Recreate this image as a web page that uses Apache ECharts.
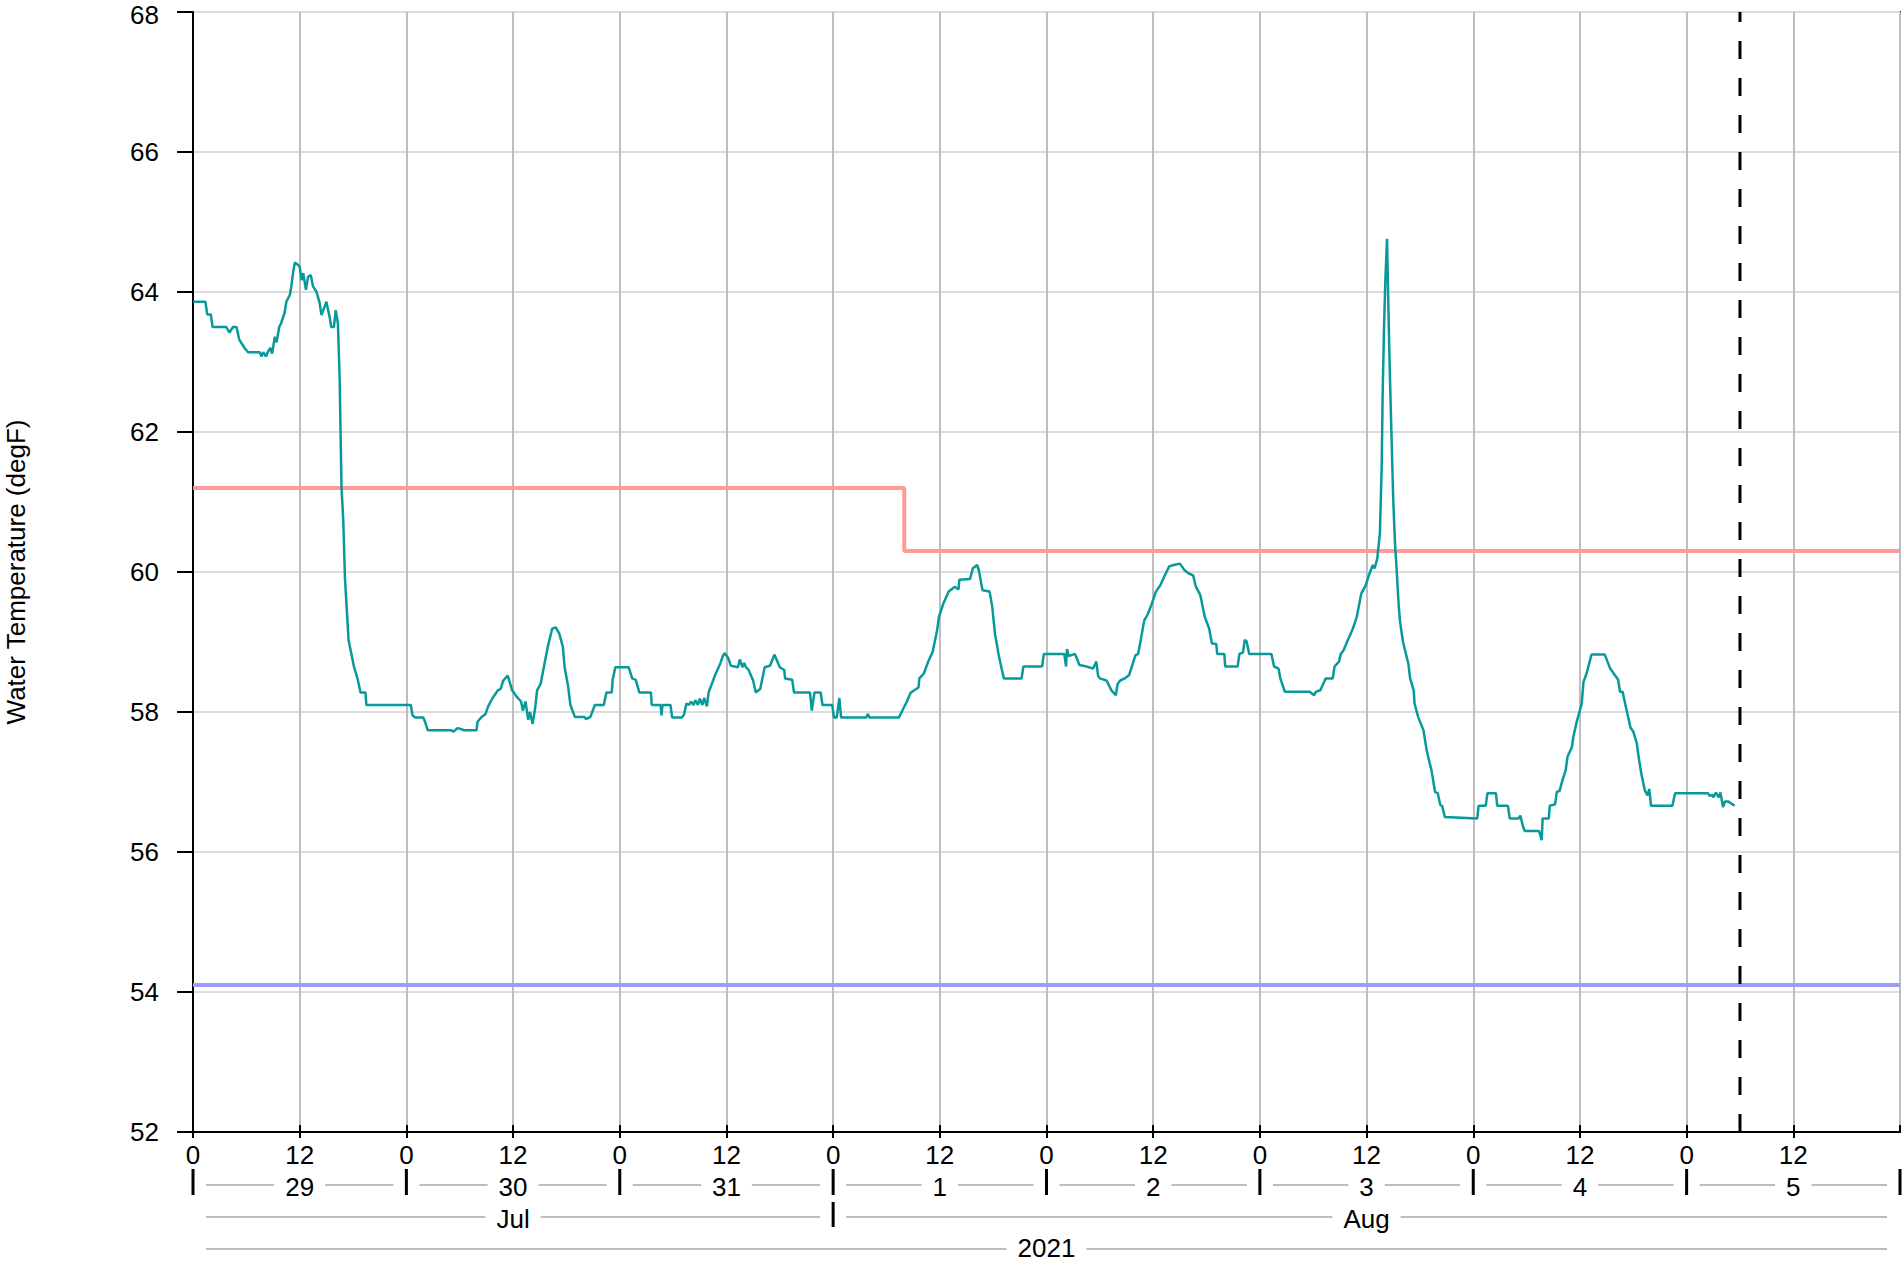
<!DOCTYPE html>
<html>
<head>
<meta charset="utf-8">
<script src="https://cdn.jsdelivr.net/npm/echarts@6/dist/echarts.min.js"></script>
<style>
html,body{margin:0;padding:0;background:#fff;}
#chart{width:1903px;height:1263px;}
</style>
</head>
<body>
<div id="chart"></div>
<script>
// ---- data (x = hours since 2021-07-29 00:00) ----
const tempHours = [
0.0,1.4,1.6,2.0,2.2,3.75,4.1,4.5,4.9,5.2,5.8,6.2,7.5,7.7,7.9,8.2,8.4,8.7,8.9,9.2,9.4,9.7,9.9,10.3,10.5,10.9,11.06,11.25,11.45,11.8,
12.0,12.2,12.4,12.7,12.95,13.25,13.5,13.9,14.25,14.45,14.8,15.0,15.4,15.55,15.85,16.05,16.3,16.5,16.7,16.9,17.1,17.5,18.1,18.5,18.85,19.4,19.5,24.5,
24.7,25.0,25.9,26.1,26.4,29.0,29.3,29.8,30.5,31.9,32.0,32.4,32.9,33.2,33.7,34.3,34.6,34.9,35.4,35.9,36.4,36.9,37.1,37.4,37.7,37.9,38.2,38.5,38.7,39.1,39.4,39.9,
40.4,40.8,41.2,41.6,41.8,42.2,42.45,42.95,44.0,44.2,44.7,45.2,46.2,46.5,47.1,47.2,47.5,49.0,49.4,49.8,50.2,51.5,51.6,52.6,52.7,52.8,53.7,53.9,55.0,55.25,
55.5,55.8,56.0,56.3,56.5,56.8,57.0,57.3,57.5,57.8,58.0,58.5,58.7,59.3,59.6,59.8,60.2,60.5,61.3,61.5,61.8,62.0,62.2,62.5,63.0,63.3,63.8,64.3,64.9,65.4,
66.0,66.5,66.6,67.4,67.6,69.4,69.6,69.9,70.6,70.8,71.9,72.1,72.4,72.7,72.9,75.7,75.9,76.1,79.4,79.9,80.3,80.7,81.0,81.6,81.7,82.2,82.7,83.2,83.7,83.9,
84.4,85.0,85.7,86.1,86.2,87.4,87.7,88.2,88.4,88.8,89.6,89.9,90.2,90.6,90.95,91.2,93.2,93.4,95.5,95.7,98.0,98.2,98.3,98.5,99.2,99.5,99.7,100.5,101.25,101.6,
101.8,102.0,102.75,103.3,103.8,104.0,104.3,104.8,105.3,105.6,106.0,106.3,106.6,107.0,107.4,107.8,108.3,108.8,109.3,109.8,110.3,111.0,111.5,112.0,112.5,112.8,113.3,113.8,114.3,114.6,
115.1,115.2,116.0,116.1,117.5,117.7,118.1,118.3,118.5,118.8,121.3,121.6,122.1,122.3,122.8,125.6,126.1,126.3,126.8,127.3,127.4,128.2,128.4,128.9,129.1,129.4,129.9,130.4,130.9,131.4,
131.9,132.2,132.4,132.7,132.9,133.2,133.5,133.7,133.8,133.95,134.1,134.3,134.4,134.6,134.8,135.0,135.2,135.4,135.6,135.75,135.9,136.1,136.7,136.9,137.3,137.4,137.8,138.3,138.4,138.75,
139.1,139.3,139.7,140.0,140.3,140.5,140.8,144.45,144.6,145.4,145.6,146.55,146.7,147.9,148.1,149.1,149.3,149.6,149.8,151.4,151.7,151.8,152.5,152.6,153.2,153.4,153.7,154.05,154.4,154.6,
155.1,155.25,155.6,156.2,156.4,156.75,157.3,158.8,159.4,160.3,160.5,160.8,161.1,161.7,162.0,162.4,162.6,162.9,163.3,163.6,163.8,164.0,166.4,166.7,170.4,170.6,170.9,171.0,171.3,171.6,
171.8,172.1,172.3,172.7,173.4
];
const tempValues = [
63.86,63.86,63.68,63.68,63.50,63.50,63.42,63.50,63.50,63.32,63.20,63.14,63.14,63.08,63.14,63.08,63.14,63.20,63.12,63.36,63.28,63.50,63.55,63.70,63.86,63.96,64.08,64.27,64.42,64.39,
64.36,64.17,64.27,64.03,64.22,64.24,64.08,64.00,63.84,63.67,63.79,63.86,63.62,63.50,63.50,63.74,63.55,62.74,61.22,60.74,59.89,59.03,58.65,58.48,58.28,58.28,58.10,58.10,
57.95,57.92,57.92,57.86,57.74,57.74,57.72,57.77,57.74,57.74,57.86,57.92,57.97,58.08,58.20,58.31,58.33,58.45,58.52,58.31,58.22,58.15,58.02,58.15,57.89,58.00,57.83,58.07,58.31,58.40,58.60,58.93,
59.19,59.21,59.12,58.93,58.64,58.36,58.10,57.93,57.93,57.90,57.93,58.10,58.10,58.28,58.28,58.46,58.64,58.64,58.48,58.46,58.28,58.28,58.10,58.10,57.95,58.10,58.10,57.92,57.92,57.97,
58.12,58.10,58.15,58.10,58.17,58.10,58.19,58.10,58.20,58.08,58.28,58.45,58.52,58.69,58.80,58.84,58.77,58.66,58.64,58.75,58.64,58.70,58.64,58.60,58.45,58.28,58.33,58.64,58.66,58.82,
58.64,58.60,58.48,58.46,58.28,58.28,58.02,58.28,58.28,58.10,58.10,57.92,57.92,58.20,57.92,57.92,57.97,57.92,57.92,58.05,58.15,58.27,58.30,58.35,58.48,58.55,58.72,58.86,59.17,59.36,
59.55,59.72,59.79,59.75,59.89,59.90,60.05,60.10,60.02,59.74,59.72,59.50,59.12,58.83,58.62,58.48,58.48,58.65,58.65,58.83,58.83,58.65,58.90,58.80,58.83,58.74,58.67,58.65,58.62,58.72,
58.52,58.48,58.45,58.31,58.24,58.40,58.45,58.48,58.53,58.65,58.81,58.83,59.03,59.31,59.40,59.53,59.72,59.81,59.95,60.08,60.10,60.12,60.03,59.98,59.95,59.79,59.67,59.36,59.19,58.98,
58.97,58.83,58.83,58.65,58.65,58.83,58.85,59.03,59.01,58.83,58.83,58.65,58.62,58.48,58.29,58.29,58.24,58.29,58.31,58.45,58.48,58.48,58.65,58.72,58.83,58.88,59.03,59.17,59.36,59.69,
59.81,59.93,60.00,60.10,60.05,60.19,60.55,61.50,62.46,63.41,64.12,64.76,64.12,62.93,61.98,61.03,60.41,60.00,59.55,59.31,59.17,59.00,58.69,58.48,58.31,58.12,57.93,57.77,57.74,57.46,
57.27,57.17,56.86,56.84,56.67,56.66,56.50,56.48,56.66,56.66,56.84,56.84,56.66,56.66,56.48,56.48,56.52,56.36,56.30,56.30,56.17,56.48,56.48,56.66,56.68,56.86,56.87,57.03,57.17,57.36,
57.50,57.64,57.84,58.12,58.43,58.55,58.82,58.82,58.62,58.46,58.29,58.29,58.11,57.77,57.72,57.55,57.36,57.12,56.88,56.81,56.90,56.66,56.66,56.84,56.84,56.80,56.82,56.78,56.85,56.78,
56.85,56.64,56.72,56.72,56.66
];
const upperHours = [0, 80, 80, 192];
const upperValues = [61.2, 61.2, 60.3, 60.3];
const lowerHours = [0, 192];
const lowerValues = [54.1, 54.1];
const nowHours = [174, 174];          // 2021-08-05 06:00
const nowValues = [52, 68];
const hourTickLabels = ['0', '12'];
const dayLabels = ['29', '30', '31', '1', '2', '3', '4', '5'];
const monthLabels = ['Jul', 'Aug'];
const monthStartDays = [0, 3, 8];
const yearLabel = '2021';
const yTitle = 'Water Temperature (degF)';

// ---- chart ----
const FONT = '"Liberation Sans", Arial, Helvetica, sans-serif';
const FS = 26;
const LH = 21;
const zip = (a, b) => a.map((x, i) => [x, b[i]]);

const chart = echarts.init(document.getElementById('chart'), null, {renderer: 'svg'});
chart.setOption({
  animation: false,
  backgroundColor: '#fff',
  grid: {left: 193, top: 12, right: 3, bottom: 131, show: true, borderColor: '#000', borderWidth: 2,
         containLabel: false, outerBoundsMode: 'none'},
  xAxis: [{
    type: 'value', min: 0, max: 192, interval: 12, position: 'bottom',
    axisLine: {show: true, onZero: false, lineStyle: {color: '#000', width: 2}},
    axisTick: {show: true, inside: false, length: 6, lineStyle: {color: '#000', width: 2}},
    axisLabel: {
      formatter: v => (v >= 192 ? '' : hourTickLabels[Math.round(v / 12) % 2]),
      fontSize: FS, fontFamily: FONT, color: '#000', margin: 12, lineHeight: LH, showMaxLabel: false
    },
    splitLine: {show: true, lineStyle: {color: '#bdbdbd', width: 2}}
  }, {
    type: 'value', min: 0, max: 192, interval: 12, position: 'bottom',
    axisLine: {show: false, onZero: false},
    axisTick: {show: true, inside: true, length: 7, lineStyle: {color: '#000', width: 2}},
    axisLabel: {show: false},
    splitLine: {show: false}
  }],
  yAxis: {
    type: 'value', min: 52, max: 68, interval: 2,
    axisLine: {show: true, lineStyle: {color: '#000', width: 2}},
    axisTick: {show: true, length: 16, lineStyle: {color: '#000', width: 2}},
    axisLabel: {
      formatter: v => (v >= 68 ? '{top|' + v + '}' : String(v)),
      fontSize: FS, fontFamily: FONT, color: '#000', margin: 34, lineHeight: LH,
      rich: {top: {fontSize: FS, fontFamily: FONT, color: '#000', lineHeight: LH, padding: [5, 0, 0, 0]}}
    },
    splitLine: {show: true, lineStyle: {color: '#dcdcdc', width: 2}},
    name: yTitle, nameLocation: 'middle', nameGap: 167, nameRotate: 90,
    nameTextStyle: {fontSize: FS, fontFamily: FONT, color: '#000', lineHeight: LH}
  },
  series: [{
    name: 'upper', type: 'line', data: zip(upperHours, upperValues), showSymbol: false, symbol: 'none',
    lineStyle: {color: '#ff9a9a', width: 4}, z: 2
  }, {
    name: 'lower', type: 'line', data: zip(lowerHours, lowerValues), showSymbol: false, symbol: 'none',
    lineStyle: {color: '#9c9cff', width: 4}, z: 2
  }, {
    name: 'Water Temperature', type: 'line', data: zip(tempHours, tempValues), showSymbol: false, symbol: 'none',
    lineStyle: {color: '#089a9a', width: 2.5}, z: 3
  }, {
    name: 'now', type: 'line', data: zip(nowHours, nowValues), showSymbol: false, symbol: 'none',
    lineStyle: {color: '#000', width: 3, type: [18, 19]}, z: 4
  }]
});

// ---- multi-level date axis below the plot ----
function addDateRows() {
  const px = h => chart.convertToPixel({xAxisIndex: 0}, h);
  const base = chart.convertToPixel({yAxisIndex: 0}, 52);
  const els = [];
  const GAP = 13;
  const lineStyle = {stroke: '#bdbdbd', lineWidth: 2};
  const textStyle = (t, x, y) => ({
    type: 'text', z: 20, style: {
      text: t, x: x, y: y, align: 'center', verticalAlign: 'middle',
      font: FS + 'px ' + FONT, lineHeight: LH, fill: '#000', backgroundColor: '#fff', padding: [0, 11]
    }
  });
  const hline = (x1, x2, y) => ({type: 'line', z: 10, shape: {x1: x1, y1: y, x2: x2, y2: y}, style: lineStyle});
  const sep = (x, y1, y2) => ({type: 'line', z: 15, shape: {x1: x, y1: y1, x2: x, y2: y2}, style: {stroke: '#000', lineWidth: 3}});

  // day row
  const dayLineY = base + 53, dayTextY = base + 55;
  for (let i = 0; i <= dayLabels.length; i++) els.push(sep(px(i * 24), base + 37, base + 63));
  dayLabels.forEach((d, i) => {
    const a = px(i * 24), b = px((i + 1) * 24);
    els.push(hline(a + GAP, b - GAP, dayLineY));
    els.push(textStyle(d, px(i * 24 + 12), dayTextY));
  });
  // month row
  const monLineY = base + 85, monTextY = base + 87;
  monthLabels.forEach((m, i) => {
    const a = px(monthStartDays[i] * 24), b = px(monthStartDays[i + 1] * 24);
    els.push(hline(a + GAP, b - GAP, monLineY));
    els.push(textStyle(m, (a + b) / 2, monTextY));
    if (i > 0) els.push(sep(a, base + 70, base + 95));
  });
  // year row
  const yrLineY = base + 117, yrTextY = base + 116;
  els.push(hline(px(0) + GAP, px(192) - GAP, yrLineY));
  els.push(textStyle(yearLabel, (px(0) + px(192)) / 2, yrTextY));

  chart.setOption({graphic: {elements: els}});
}
addDateRows();
</script>
</body>
</html>
